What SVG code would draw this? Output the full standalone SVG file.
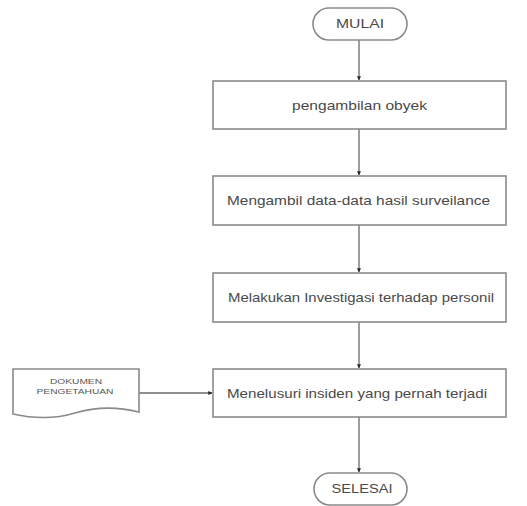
<svg xmlns="http://www.w3.org/2000/svg" width="527" height="506" viewBox="0 0 527 506">
<style>
.shape{fill:#fff;stroke:#8a8a8a;stroke-width:1.6}
.lbl{font-family:"Liberation Sans",Arial,sans-serif;font-size:13px;fill:#4a4a4a;text-anchor:middle}
.small{font-family:"Liberation Sans",Arial,sans-serif;font-size:6.5px;fill:#555;text-anchor:middle}
.conn{stroke:#6a6a6a;stroke-width:1.3;fill:none;marker-end:url(#arr)}
</style>
<defs>
<marker id="arr" viewBox="0 0 6 6" refX="5.5" refY="3" markerWidth="4" markerHeight="4" orient="auto" markerUnits="userSpaceOnUse">
<path d="M0,0 L6,3 L0,6 z" fill="#222"/>
</marker>
</defs>
<rect width="527" height="506" fill="#fff"/>
<g id="connectors">
<line class="conn" x1="359" y1="40" x2="359" y2="80"/>
<line class="conn" x1="359" y1="129" x2="359" y2="175"/>
<line class="conn" x1="359" y1="225" x2="359" y2="272"/>
<line class="conn" x1="359" y1="322" x2="359" y2="368"/>
<line class="conn" x1="359" y1="417" x2="359" y2="472"/>
<line class="conn" x1="139" y1="393" x2="212" y2="393"/>
</g>
<g id="mulai">
<rect class="shape" x="313" y="8" width="94" height="32" rx="16" ry="16"/>
<text class="lbl" x="360" y="28" textLength="48" lengthAdjust="spacingAndGlyphs">MULAI</text>
</g>
<g id="pengambilan">
<rect class="shape" x="213" y="81" width="293" height="48"/>
<text class="lbl" x="359.5" y="109.5" textLength="135" lengthAdjust="spacingAndGlyphs">pengambilan obyek</text>
</g>
<g id="mengambil">
<rect class="shape" x="213" y="176" width="293" height="49"/>
<text class="lbl" x="358.5" y="205" textLength="263" lengthAdjust="spacingAndGlyphs">Mengambil data-data hasil surveilance</text>
</g>
<g id="investigasi">
<rect class="shape" x="213" y="273" width="293" height="49"/>
<text class="lbl" x="361" y="302" textLength="266" lengthAdjust="spacingAndGlyphs">Melakukan Investigasi terhadap personil</text>
</g>
<g id="menelusuri">
<rect class="shape" x="213" y="369" width="293" height="48"/>
<text class="lbl" x="357" y="398" textLength="260" lengthAdjust="spacingAndGlyphs">Menelusuri insiden yang pernah terjadi</text>
</g>
<g id="dokumen">
<path class="shape" d="M13,369 H139 V412 C115,406 95,407 75,413 C55,419 35,419 13,414 Z"/>
<text class="small" x="76" y="384" textLength="52" lengthAdjust="spacingAndGlyphs">DOKUMEN</text>
<text class="small" x="75" y="394" textLength="77" lengthAdjust="spacingAndGlyphs">PENGETAHUAN</text>
</g>
<g id="selesai">
<rect class="shape" x="314" y="473" width="93" height="32" rx="16" ry="16"/>
<text class="lbl" x="362" y="493" textLength="61" lengthAdjust="spacingAndGlyphs">SELESAI</text>
</g>
</svg>
